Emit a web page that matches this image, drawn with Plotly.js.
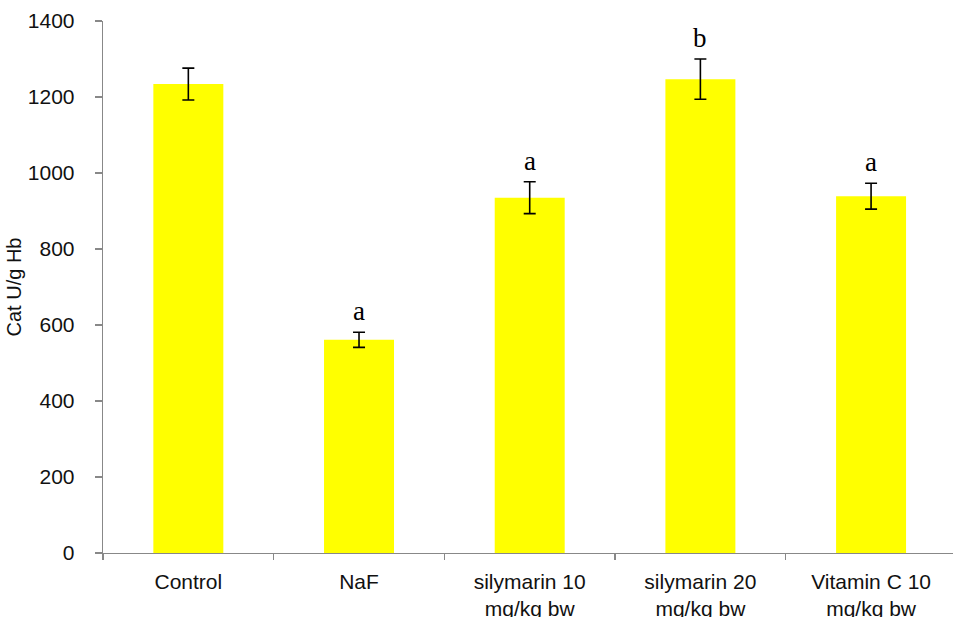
<!DOCTYPE html>
<html>
<head>
<meta charset="utf-8">
<script src="https://cdn.plot.ly/plotly-3.0.1.min.js"></script>
<style>html,body{margin:0;padding:0;background:#fff;}#chart{width:953px;height:617px;}</style>
</head>
<body>
<div id="chart"></div>
<script>
const categories = ["Control", "NaF", "silymarin 10<br>mg/kg bw", "silymarin 20<br>mg/kg bw", "Vitamin C 10<br>mg/kg bw"];
const values = [1234, 561, 935, 1247, 939];
const errors = [42, 20, 42, 53, 34];
const letters = ["", "a", "a", "b", "a"];

const trace = {
  type: "bar",
  x: categories,
  y: values,
  width: 0.41,
  marker: {color: "#FFFF00", line: {width: 0}},
  error_y: {type: "data", array: errors, visible: true, color: "#000000", thickness: 1.6, width: 6},
  hoverinfo: "none"
};

const annotations = categories.map((c, i) => ({
  x: c, y: values[i] + errors[i], xref: "x", yref: "y",
  text: letters[i], showarrow: false, yanchor: "middle", yshift: 21,
  font: {family: "Liberation Serif, serif", size: 27, color: "#000"}
})).filter(a => a.text);

const layout = {
  width: 953, height: 617,
  margin: {l: 103, r: 0, t: 21, b: 64},
  paper_bgcolor: "#fff", plot_bgcolor: "#fff",
  showlegend: false,
  font: {family: "Liberation Sans, Arial, sans-serif", color: "#000"},
  xaxis: {
    type: "category", range: [-0.5, 4.48],
    showline: true, linecolor: "#888", linewidth: 1.3,
    ticks: "outside", tickson: "boundaries", ticklen: 6, tickcolor: "#888", tickwidth: 1.3,
    ticklabelstandoff: 9,
    tickfont: {size: 21, color: "#111"}, showgrid: false, zeroline: false
  },
  yaxis: {
    range: [0, 1400], dtick: 200, tick0: 0,
    showline: true, linecolor: "#888", linewidth: 1.3,
    ticks: "outside", ticklen: 7, tickcolor: "#888", tickwidth: 1.3,
    ticklabelstandoff: 16,
    tickfont: {size: 21, color: "#111"}, showgrid: false, zeroline: false,
    title: {text: "Cat U/g Hb", font: {size: 20, color: "#111"}, standoff: 0}
  },
  annotations: annotations
};

Plotly.newPlot("chart", [trace], layout, {displayModeBar: false, staticPlot: true});
</script>
</body>
</html>
